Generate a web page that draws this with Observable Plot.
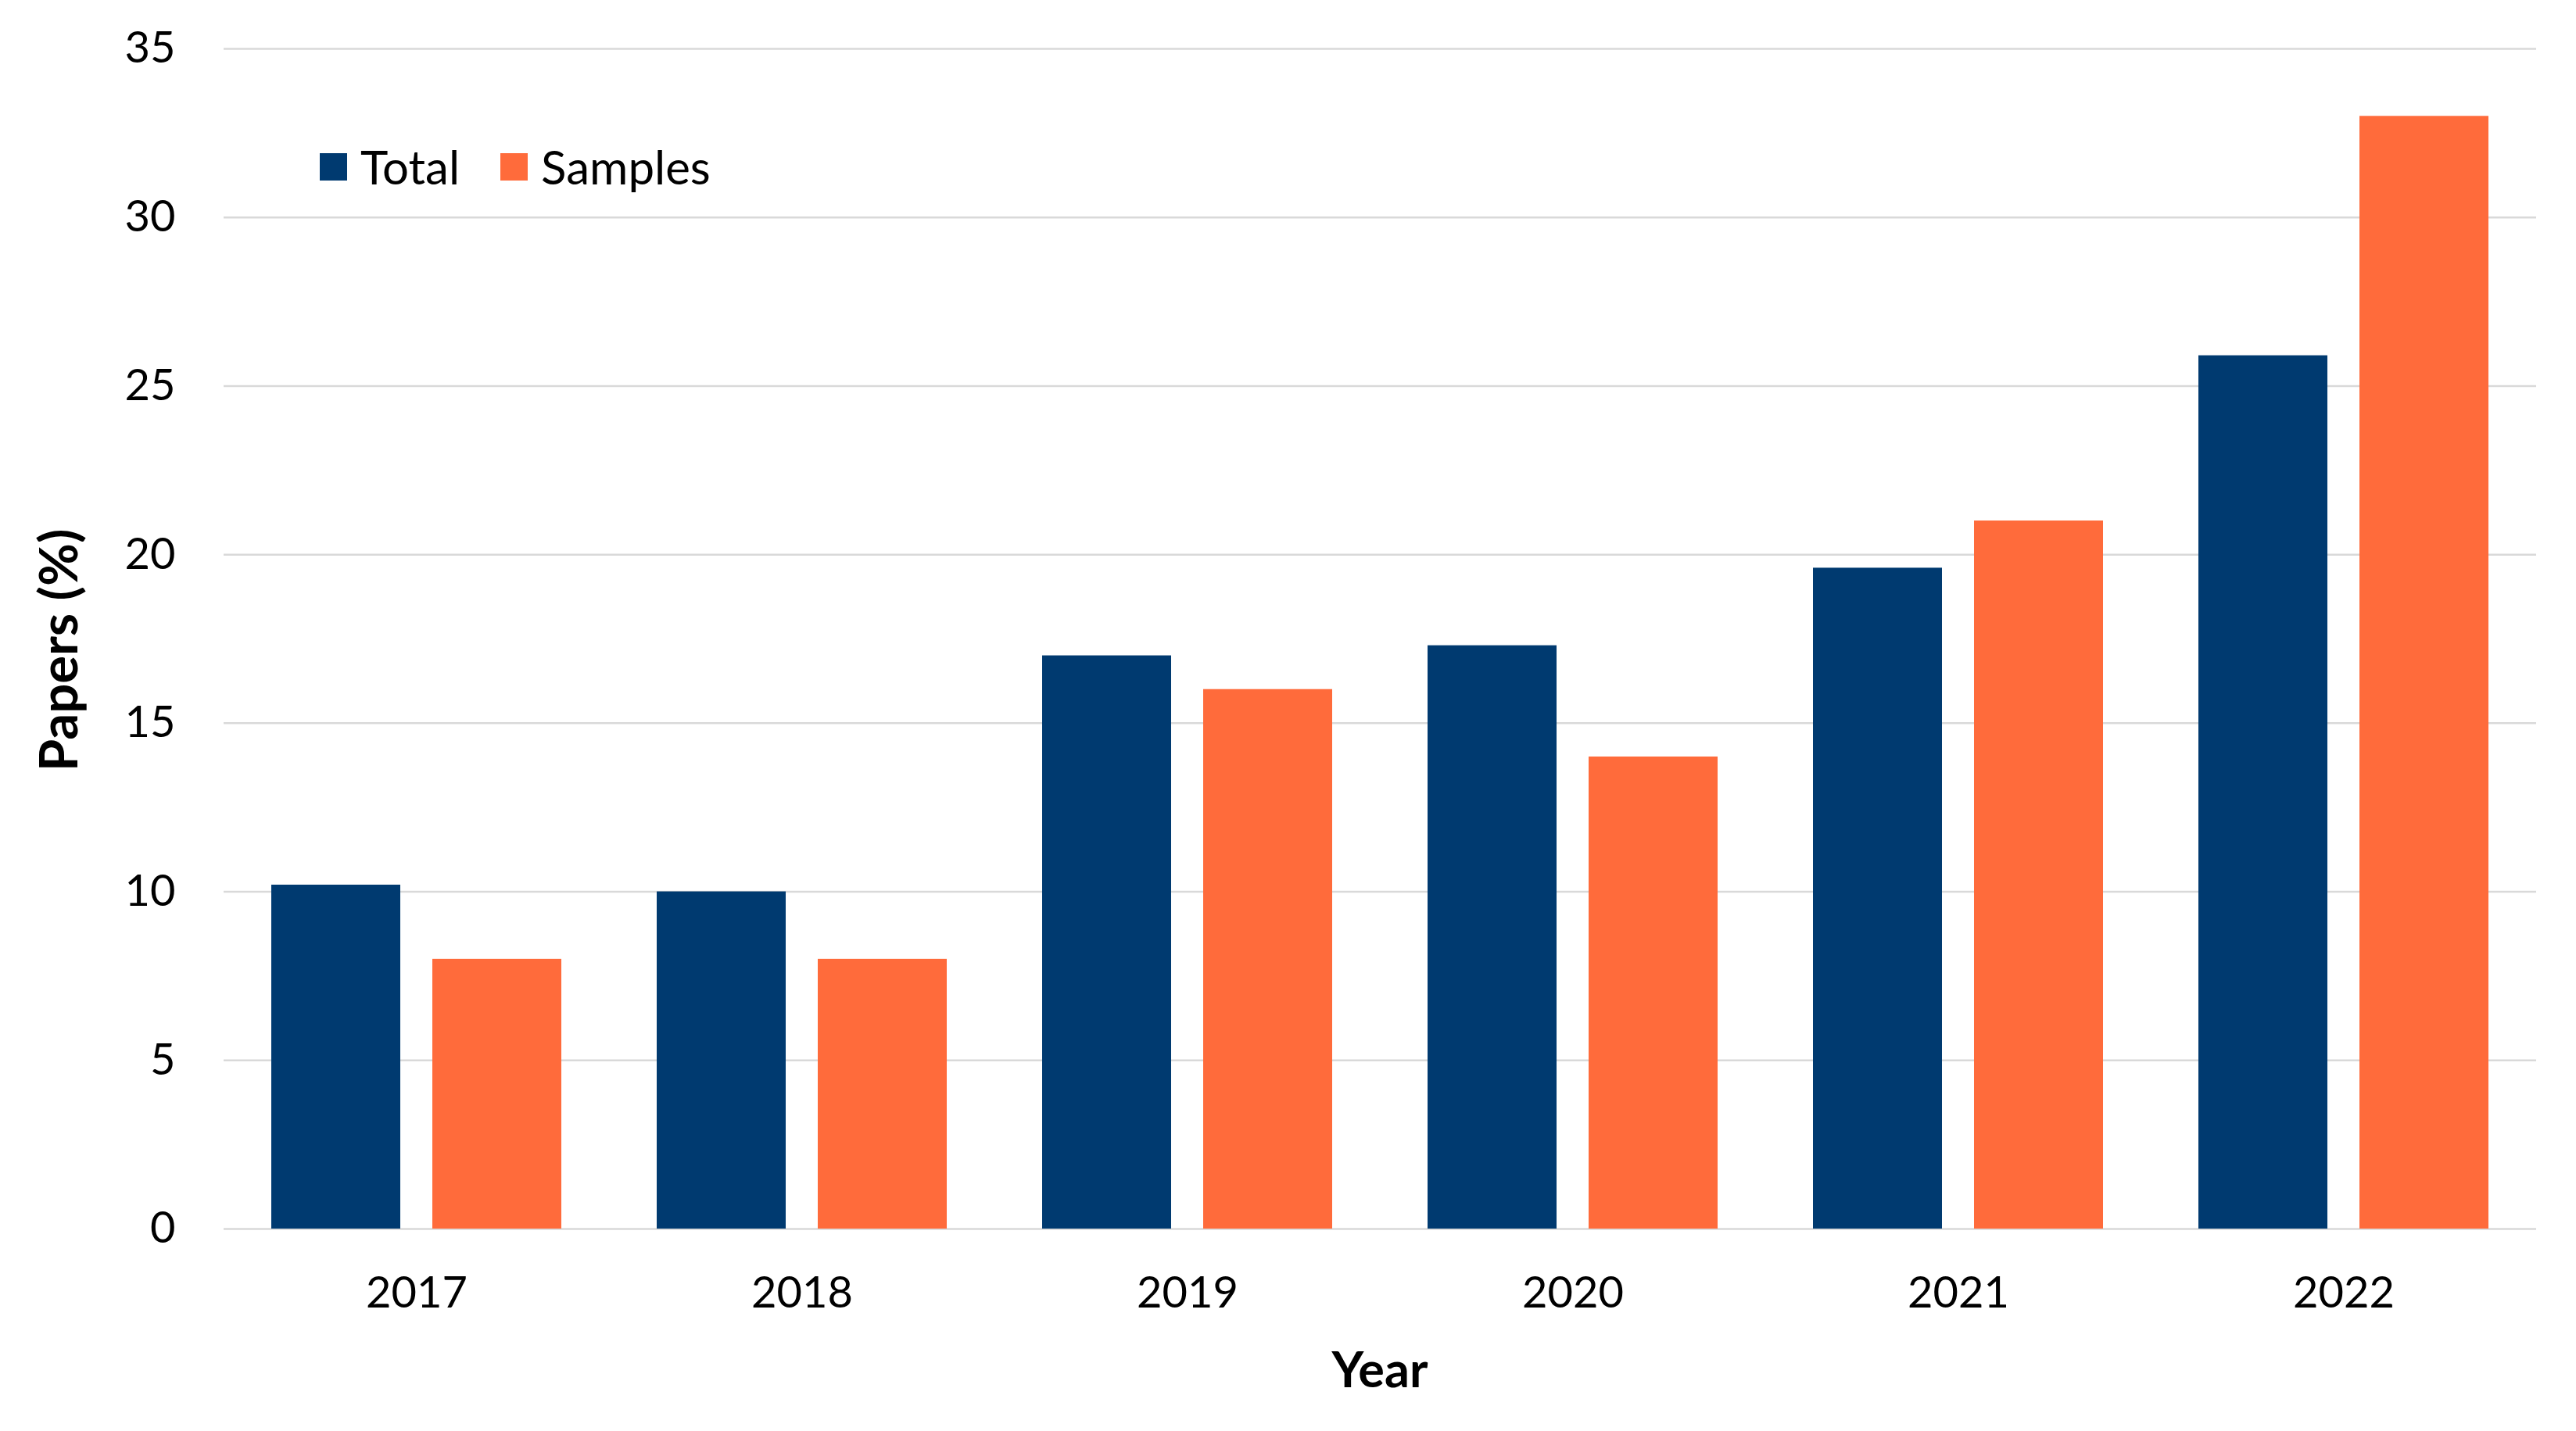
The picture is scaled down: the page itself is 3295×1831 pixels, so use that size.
<!DOCTYPE html>
<html>
<head>
<meta charset="utf-8">
<script src="https://cdn.jsdelivr.net/npm/d3@7"></script>
<script src="https://cdn.jsdelivr.net/npm/@observablehq/plot@0.6"></script>
<style>
  html, body { margin: 0; padding: 0; background: #fff; }
  #wrap { position: relative; width: 3295px; height: 1831px; font-family: Lato, "Open Sans", sans-serif; color: #000; }
  #legend { position: absolute; left: 409px; top: 183px; display: flex; align-items: center; font-size: 60px; line-height: 1; }
  #legend .item { display: flex; align-items: center; margin-right: 52px; }
  #legend .sw { width: 35px; height: 35px; margin-right: 17px; }
  .title { position: absolute; font-weight: bold; line-height: 1; white-space: nowrap; }
  #xtitle { font-size: 63px; top: 1750px; text-align: center; transform: translateY(-50%); }
  #ytitle { font-size: 67px; left: 73px; top: 832px; transform: translate(-50%, -50%) rotate(-90deg); }
</style>
</head>
<body>
<div id="wrap"></div>
<script>
const years = ["2017", "2018", "2019", "2020", "2021", "2022"];
const totalValues = [10.2, 10.0, 17.0, 17.3, 19.6, 25.9];
const samplesValues = [8, 8, 16, 14, 21, 33];
const seriesNames = ["Total", "Samples"];
const seriesColors = ["#003A70", "#FF6B3B"];
const yTicks = [0, 5, 10, 15, 20, 25, 30, 35];

const data = [];
years.forEach((yr, i) => {
  data.push({year: yr, series: "Total", value: totalValues[i]});
  data.push({year: yr, series: "Samples", value: samplesValues[i]});
});

const chart = Plot.plot({
  width: 3295,
  height: 1831,
  marginLeft: 286,
  marginRight: 51,
  marginTop: 62,
  marginBottom: 259,
  style: {fontFamily: "Lato, 'Open Sans', sans-serif", fontSize: "56px", color: "#000", background: "#fff", overflow: "visible"},
  fx: {domain: years, paddingInner: 0, paddingOuter: 0, label: null},
  x: {domain: seriesNames, paddingInner: 0.2, paddingOuter: 0.296, axis: null},
  y: {domain: [0, 35], label: null},
  color: {domain: seriesNames, range: seriesColors},
  marks: [
    Plot.gridY(yTicks, {stroke: "#d9d9d9", strokeOpacity: 1, strokeWidth: 2.5}),
    Plot.barY(data, {fx: "year", x: "series", y: "value", fill: "series"}),
    Plot.axisY(yTicks, {tickSize: 0, tickPadding: 62, fontSize: 56, label: null, fill: "#000"}),
    Plot.axisFx({anchor: "bottom", tickSize: 0, tickPadding: 61, fontSize: 56, label: null, fill: "#000"})
  ]
});

const wrap = document.getElementById("wrap");
wrap.appendChild(chart);

const legend = document.createElement("div");
legend.id = "legend";
seriesNames.forEach((name, i) => {
  const item = document.createElement("div");
  item.className = "item";
  const sw = document.createElement("div");
  sw.className = "sw";
  sw.style.background = seriesColors[i];
  const lab = document.createElement("span");
  lab.textContent = name;
  item.appendChild(sw);
  item.appendChild(lab);
  legend.appendChild(item);
});
wrap.appendChild(legend);

const xt = document.createElement("div");
xt.id = "xtitle"; xt.className = "title"; xt.textContent = "Year";
xt.style.left = "286px"; xt.style.width = (3295 - 286 - 51) + "px";
wrap.appendChild(xt);

const yt = document.createElement("div");
yt.id = "ytitle"; yt.className = "title"; yt.textContent = "Papers (%)";
wrap.appendChild(yt);
</script>
</body>
</html>
